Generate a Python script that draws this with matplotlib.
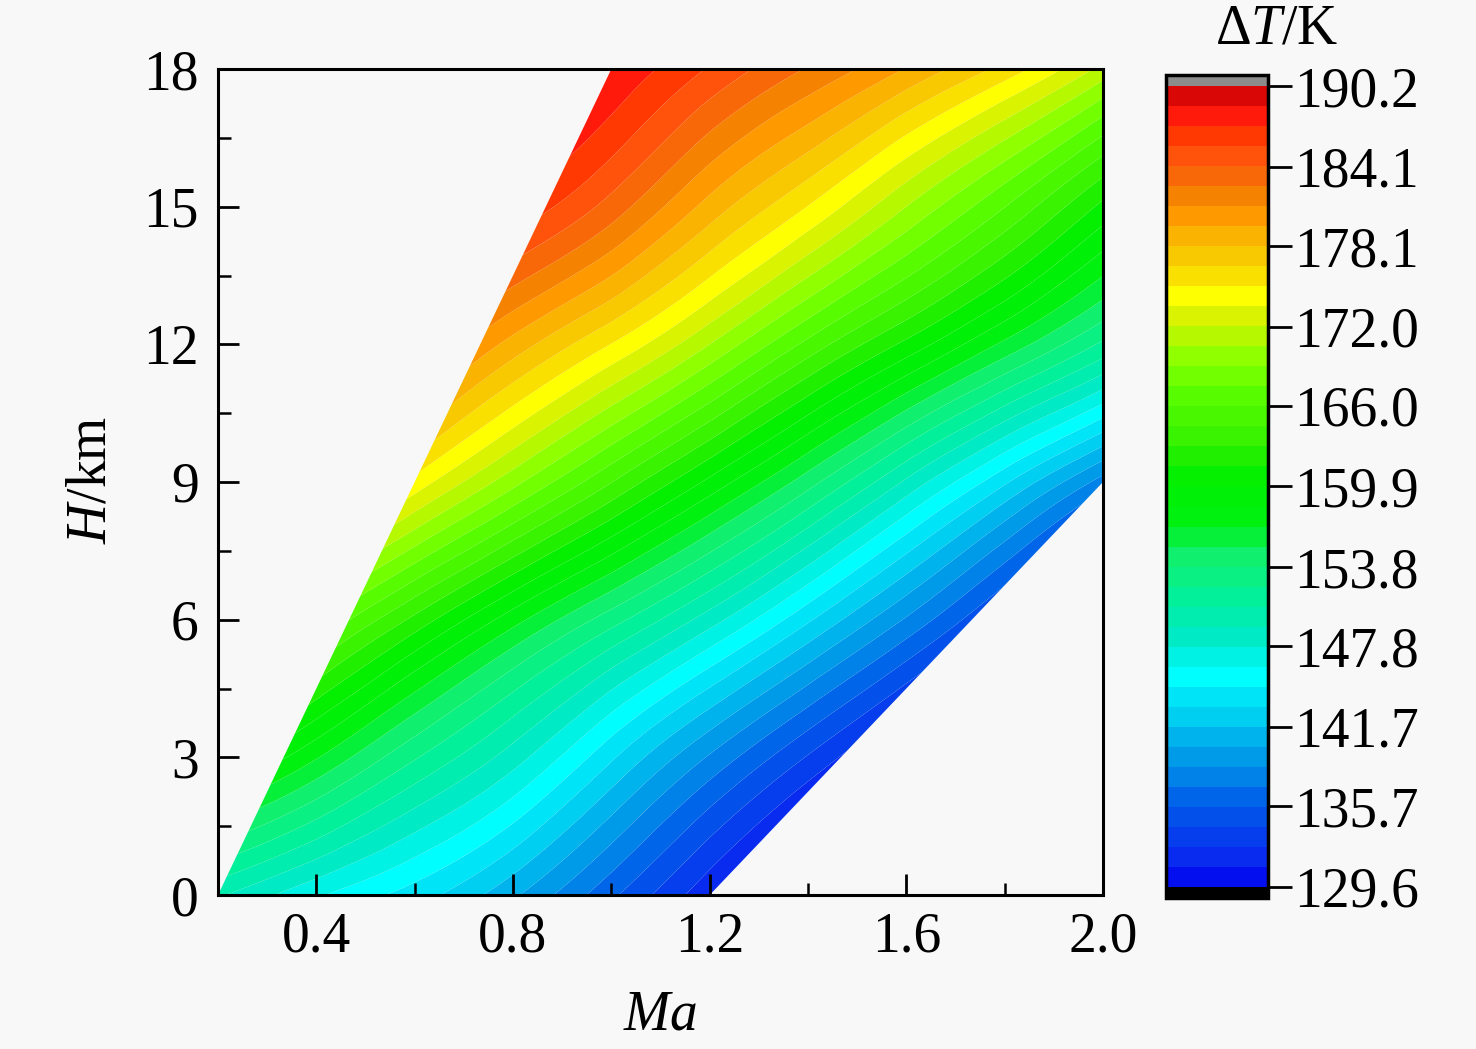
import numpy as np
import matplotlib
matplotlib.use('Agg')
import matplotlib.pyplot as plt
import matplotlib.tri as mtri
from matplotlib.colors import LinearSegmentedColormap
from matplotlib.patches import Polygon
from matplotlib.ticker import MultipleLocator

plt.rcParams['font.family'] = ['Liberation Serif', 'DejaVu Serif']
plt.rcParams['mathtext.fontset'] = 'custom'
plt.rcParams['mathtext.rm'] = 'Liberation Serif'
plt.rcParams['mathtext.it'] = 'Liberation Serif:italic'

# ---------------- data ----------------
ma_values = [0.2, 0.4, 0.6, 0.8, 1.0, 1.2, 1.4, 1.6, 1.8, 2.0]
h_values = [0, 3, 6, 9, 12, 15, 18]

dT_h0 = [149.5, 146.5, 144.0, 140.5, 136.0, 131.5, 127.0, 123.0, 119.0, 115.0]
dT_h3 = [161.5, 157.0, 152.5, 148.5, 143.5, 138.5, 134.0, 129.5, 125.0, 121.0]
dT_h6 = [175.0, 168.0, 162.5, 157.5, 153.0, 148.5, 143.5, 138.5, 133.5, 128.5]
dT_h9 = [186.0, 180.0, 174.5, 169.5, 164.5, 159.5, 154.5, 149.0, 143.5, 138.0]
dT_h12 = [193.0, 188.0, 183.5, 179.0, 175.0, 170.5, 165.5, 161.0, 156.5, 152.0]
dT_h15 = [197.0, 194.0, 190.5, 187.0, 183.5, 179.0, 175.0, 170.5, 166.0, 161.0]
dT_h18 = [199.0, 197.0, 194.5, 191.5, 188.5, 185.5, 182.5, 179.5, 176.0, 171.5]

# valid flight envelope (polygon)
region_ma = [0.2, 1.0, 2.0, 2.0, 1.2]
region_h = [0, 18, 18, 9, 0]

cb_min, cb_max = 129.6, 190.2
cb_ticks = [129.6, 135.7, 141.7, 147.8, 153.8, 159.9, 166.0, 172.0, 178.1, 184.1, 190.2]
cb_labels = ['129.6', '135.7', '141.7', '147.8', '153.8', '159.9',
             '166.0', '172.0', '178.1', '184.1', '190.2']
x_ticks = [0.4, 0.8, 1.2, 1.6, 2.0]
x_labels = ['0.4', '0.8', '1.2', '1.6', '2.0']
y_ticks = [0, 3, 6, 9, 12, 15, 18]
y_labels = ['0', '3', '6', '9', '12', '15', '18']

# colormap anchors (value, colour)
cmap_vals = [129.6, 131.5, 136.0, 139.6, 142.0, 145.6, 148.0, 151.0, 154.5,
             157.5, 160.5, 163.0, 167.5, 170.5, 172.5, 174.3, 176.8, 178.5,
             180.5, 182.5, 184.5, 186.5, 188.5, 190.2]
cmap_cols = ['#0000f0', '#0a28f0', '#0060e8', '#00a0e8', '#00c8f0', '#00ffff',
             '#00e8d0', '#00f0a0', '#10f070', '#00f010', '#00f000', '#30f000',
             '#60ff00', '#a0ff00', '#d0f000', '#ffff00', '#f8d000', '#f8b800',
             '#ff9800', '#f07800', '#ff5a10', '#ff3c00', '#ff1010', '#c00000']

# ---------------- figure ----------------
bg = '#f8f8f8'
fig = plt.figure(figsize=(14.76, 10.49), dpi=100, facecolor=bg)
ax = fig.add_axes([218 / 1476, 1 - 895 / 1049, 885 / 1476, 826 / 1049])
ax.set_facecolor(bg)
cax = fig.add_axes([1166 / 1476, 1 - 898 / 1049, 102 / 1476, 823 / 1049])

nodes = [(v - cb_min) / (cb_max - cb_min) for v in cmap_vals]
cmap = LinearSegmentedColormap.from_list('origin_rainbow', list(zip(nodes, cmap_cols)))
cmap.set_over('#8c8c8c')
cmap.set_under('#000000')

MA, HH = np.meshgrid(np.array(ma_values), np.array(h_values))
dT = np.array([dT_h0, dT_h3, dT_h6, dT_h9, dT_h12, dT_h15, dT_h18])

# triangulate the grid (diagonals along the bands), in a scaled space
# so that the cells are nearly square for the smooth interpolator
nx, ny = len(ma_values), len(h_values)
triangles = []
for j in range(ny - 1):
    for i in range(nx - 1):
        a = j * nx + i
        b = a + 1
        c = a + nx + 1
        d = a + nx
        triangles.append([a, b, c])
        triangles.append([a, c, d])
scale = 15.0
tri_s = mtri.Triangulation(MA.ravel() * scale, HH.ravel(), triangles=np.array(triangles))
interp = mtri.CubicTriInterpolator(tri_s, dT.ravel(), kind='min_E')
refiner = mtri.UniformTriRefiner(tri_s)
tri_rs, z_r = refiner.refine_field(dT.ravel(), triinterpolator=interp, subdiv=4)
tri_r = mtri.Triangulation(tri_rs.x / scale, tri_rs.y, triangles=tri_rs.triangles)

levels = np.linspace(cb_min, cb_max, 41)
cs = ax.tricontourf(tri_r, z_r, levels=levels, cmap=cmap, extend='both', antialiased=True)

poly = Polygon(np.column_stack([region_ma, region_h]), closed=True,
               transform=ax.transData, facecolor='none', edgecolor='none')
ax.add_patch(poly)
cs.set_clip_path(poly)

ax.set_xlim(0.2, 2.0)
ax.set_ylim(0, 18)
ax.set_xticks(x_ticks)
ax.set_xticklabels(x_labels)
ax.set_yticks(y_ticks)
ax.set_yticklabels(y_labels)
ax.xaxis.set_minor_locator(MultipleLocator(0.2))
ax.yaxis.set_minor_locator(MultipleLocator(1.5))
ax.tick_params(which='major', direction='in', length=15, width=2,
               labelsize=40, top=False, right=False)
ax.tick_params(which='minor', direction='in', length=9, width=1.8,
               top=False, right=False)
ax.tick_params(axis='x', which='major', pad=12)
ax.tick_params(axis='y', which='major', pad=14)
for s in ax.spines.values():
    s.set_linewidth(2.2)
    s.set_zorder(5)

cb = fig.colorbar(cs, cax=cax, ticks=cb_ticks, extendrect=True, extendfrac=0.014)
cb.ax.set_yticklabels(cb_labels)
cb.ax.minorticks_off()
cb.ax.tick_params(direction='out', length=17, width=2, labelsize=40, pad=2)
cb.outline.set_linewidth(2.5)

fig.text(660 / 1476, 1 - 1015 / 1049, r'$\mathit{Ma}$', fontsize=40,
         ha='center', va='center')
fig.text(92 / 1476, 1 - 480 / 1049, r'$\mathit{H}$/km', fontsize=40,
         ha='center', va='center', rotation=90)
fig.text(1277 / 1476, 1 - 30 / 1049, r'$\Delta\mathit{T}$/K', fontsize=40,
         ha='center', va='center')

fig.savefig('out.png', dpi=100, facecolor=bg)
